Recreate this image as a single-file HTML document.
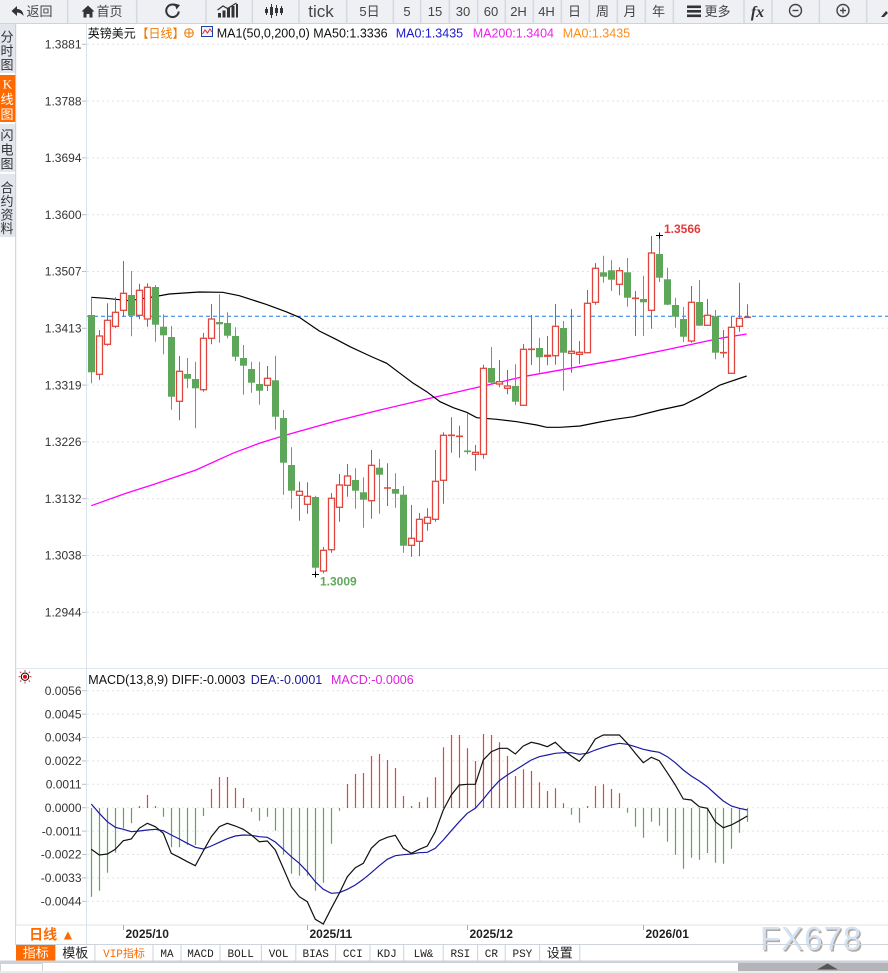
<!DOCTYPE html>
<html><head><meta charset="utf-8">
<style>
html,body{margin:0;padding:0;background:#fff;}
body{width:888px;height:973px;overflow:hidden;}
svg{display:block;font-family:"Liberation Sans","Noto Sans CJK SC",sans-serif;}
.gw{stroke:#5ea65a;stroke-width:1;fill:none}
.gb rect{fill:#5ea65a}
.rw{stroke:#e0463e;stroke-width:1;fill:none}
.rb rect{fill:#fff;stroke:#e0463e;stroke-width:1.3}
.grid{stroke:#e2e2e2;stroke-width:1;stroke-dasharray:2,3}
.yl{font-size:12px;fill:#333;text-anchor:end}
.tb{font-size:13px;fill:#444;text-anchor:middle}
.sb{font-size:13px;fill:#333;text-anchor:middle}
.tab{font-family:"Liberation Mono","Noto Sans CJK SC",monospace;font-size:11px;fill:#222;text-anchor:middle}
.dl{font-size:12px;font-weight:bold;fill:#222}
</style></head>
<body>
<svg width="888" height="973" viewBox="0 0 888 973" xmlns="http://www.w3.org/2000/svg">
<!-- toolbar -->
<rect x="0" y="0" width="888" height="23" fill="#eef0f4"/>
<g stroke="#d5d8df" stroke-width="1.5">
<line x1="67.7" y1="0" x2="67.7" y2="23"/><line x1="136.7" y1="0" x2="136.7" y2="23"/><line x1="206" y1="0" x2="206" y2="23"/><line x1="252.3" y1="0" x2="252.3" y2="23"/><line x1="299" y1="0" x2="299" y2="23"/><line x1="346.7" y1="0" x2="346.7" y2="23"/><line x1="393.3" y1="0" x2="393.3" y2="23"/><line x1="420.7" y1="0" x2="420.7" y2="23"/><line x1="449.3" y1="0" x2="449.3" y2="23"/><line x1="477.7" y1="0" x2="477.7" y2="23"/><line x1="505.3" y1="0" x2="505.3" y2="23"/><line x1="533.3" y1="0" x2="533.3" y2="23"/><line x1="561.3" y1="0" x2="561.3" y2="23"/><line x1="589.3" y1="0" x2="589.3" y2="23"/><line x1="617.3" y1="0" x2="617.3" y2="23"/><line x1="645.3" y1="0" x2="645.3" y2="23"/><line x1="673.3" y1="0" x2="673.3" y2="23"/><line x1="744" y1="0" x2="744" y2="23"/><line x1="772" y1="0" x2="772" y2="23"/><line x1="819.3" y1="0" x2="819.3" y2="23"/><line x1="866.7" y1="0" x2="866.7" y2="23"/>
</g>
<line x1="0" y1="23.5" x2="888" y2="23.5" stroke="#d0d4da"/>
<path d="M11.5 11 L17 6 L17 9 Q23 9 23.5 16 Q21 12.5 17 12.5 L17 16 Z" fill="#333"/>
<text x="26.5" y="16" font-size="13" fill="#444">返回</text>
<path d="M81.5 11.5 L88 5.5 L94.5 11.5 L92.5 11.5 L92.5 17.5 L89.5 17.5 L89.5 14 L86.5 14 L86.5 17.5 L83.5 17.5 L83.5 11.5 Z" fill="#333"/>
<text x="96.5" y="16" font-size="13" fill="#444">首页</text>
<path d="M177 6.3 A6.3 6.3 0 1 0 178.8 11.5" stroke="#333" stroke-width="2" fill="none"/>
<path d="M174.5 3.5 L180 5 L176.5 9.5 Z" fill="#333"/>
<g fill="#333"><rect x="218" y="13" width="3" height="4.5"/><rect x="222.5" y="10.5" width="3" height="7"/><rect x="227" y="8" width="3" height="9.5"/><rect x="231.5" y="6" width="3" height="11.5"/><rect x="236" y="4" width="2" height="13.5"/></g>
<polyline points="217.5,10 223,6 227.5,8.5 236.5,3" stroke="#333" stroke-width="1.2" fill="none"/>
<g stroke="#333" stroke-width="1"><line x1="266.5" y1="7" x2="266.5" y2="15"/><line x1="271.5" y1="4" x2="271.5" y2="18"/><line x1="276.5" y1="5" x2="276.5" y2="16"/><line x1="281.5" y1="6" x2="281.5" y2="15"/></g>
<g fill="#333"><rect x="265" y="9" width="3" height="4"/><rect x="270" y="7" width="3" height="8"/><rect x="275" y="8" width="3" height="5"/><rect x="280" y="8" width="3" height="5"/></g>
<text x="321" y="17" font-size="17" fill="#444" text-anchor="middle">tick</text>
<text class="tb" x="369.5" y="16">5日</text>
<text class="tb" x="407" y="16">5</text>
<text class="tb" x="435" y="16">15</text>
<text class="tb" x="463" y="16">30</text>
<text class="tb" x="491" y="16">60</text>
<text class="tb" x="518.5" y="16">2H</text>
<text class="tb" x="546.5" y="16">4H</text>
<text class="tb" x="574.5" y="16">日</text>
<text class="tb" x="602.5" y="16">周</text>
<text class="tb" x="630" y="16">月</text>
<text class="tb" x="658.5" y="16">年</text>
<g fill="#333"><rect x="687" y="5.5" width="14" height="2.6"/><rect x="687" y="10" width="14" height="2.6"/><rect x="687" y="14.5" width="14" height="2.6"/></g>
<text x="704.5" y="16" font-size="13" fill="#444">更多</text>
<text x="757.5" y="17" font-size="16" font-weight="bold" font-style="italic" fill="#333" text-anchor="middle" font-family="Liberation Serif, serif">fx</text>
<circle cx="795.5" cy="10.5" r="6" stroke="#444" stroke-width="1.4" fill="none"/><line x1="792.5" y1="10.5" x2="798.5" y2="10.5" stroke="#444" stroke-width="1.4"/>
<circle cx="843" cy="10.5" r="6" stroke="#444" stroke-width="1.4" fill="none"/><line x1="840" y1="10.5" x2="846" y2="10.5" stroke="#444" stroke-width="1.4"/><line x1="843" y1="7.5" x2="843" y2="13.5" stroke="#444" stroke-width="1.4"/>
<path d="M881 17 L886 11 L888 13 L884 17 Z" fill="#333"/>

<!-- sidebar -->
<rect x="0" y="24" width="15.5" height="213" fill="#e3e6ed"/>
<rect x="0" y="75" width="15.5" height="47" fill="#ff6a00"/>
<rect x="0" y="122" width="15.5" height="2" fill="#fff"/>
<rect x="0" y="172" width="15.5" height="2" fill="#fff"/>
<rect x="0" y="73" width="15.5" height="2" fill="#fff"/>
<line x1="15.7" y1="24" x2="15.7" y2="945" stroke="#c8ccd6"/>
<text class="sb" x="7" y="41.5">分</text><text class="sb" x="7" y="55.5">时</text><text class="sb" x="7" y="69.5">图</text>
<text class="sb" x="7.5" y="88.5" fill="#fff" font-size="11" style="fill:#fff" font-family="Liberation Serif, serif">K</text><text class="sb" x="7" y="104" style="fill:#fff">线</text><text class="sb" x="7" y="119" style="fill:#fff">图</text>
<text class="sb" x="7" y="140">闪</text><text class="sb" x="7" y="154.5">电</text><text class="sb" x="7" y="168.5">图</text>
<text class="sb" x="7" y="192.5">合</text><text class="sb" x="7" y="206">约</text><text class="sb" x="7" y="219.5">资</text><text class="sb" x="7" y="233">料</text>

<!-- axes frame -->
<line x1="86.5" y1="24" x2="86.5" y2="944" stroke="#dbe2ea"/>
<line x1="16" y1="668.5" x2="888" y2="668.5" stroke="#e0e6ee"/>
<line x1="16" y1="925" x2="888" y2="925" stroke="#dde2ea"/>

<!-- price grid -->
<g class="grid">
<line x1="87" y1="44.3" x2="888" y2="44.3"/><line x1="87" y1="101.1" x2="888" y2="101.1"/><line x1="87" y1="157.9" x2="888" y2="157.9"/><line x1="87" y1="214.7" x2="888" y2="214.7"/><line x1="87" y1="271.5" x2="888" y2="271.5"/><line x1="87" y1="328.3" x2="888" y2="328.3"/><line x1="87" y1="385.1" x2="888" y2="385.1"/><line x1="87" y1="441.9" x2="888" y2="441.9"/><line x1="87" y1="498.7" x2="888" y2="498.7"/><line x1="87" y1="555.5" x2="888" y2="555.5"/><line x1="87" y1="612.3" x2="888" y2="612.3"/>
</g>
<g stroke="#b8c0cc" stroke-width="1">
<line x1="82" y1="44.3" x2="86" y2="44.3"/><line x1="82" y1="101.1" x2="86" y2="101.1"/><line x1="82" y1="157.9" x2="86" y2="157.9"/><line x1="82" y1="214.7" x2="86" y2="214.7"/><line x1="82" y1="271.5" x2="86" y2="271.5"/><line x1="82" y1="328.3" x2="86" y2="328.3"/><line x1="82" y1="385.1" x2="86" y2="385.1"/><line x1="82" y1="441.9" x2="86" y2="441.9"/><line x1="82" y1="498.7" x2="86" y2="498.7"/><line x1="82" y1="555.5" x2="86" y2="555.5"/><line x1="82" y1="612.3" x2="86" y2="612.3"/>
</g>
<g class="yl">
<text x="81.5" y="48.5">1.3881</text><text x="81.5" y="105.3">1.3788</text><text x="81.5" y="162.1">1.3694</text><text x="81.5" y="218.9">1.3600</text><text x="81.5" y="275.7">1.3507</text><text x="81.5" y="332.5">1.3413</text><text x="81.5" y="389.3">1.3319</text><text x="81.5" y="446.1">1.3226</text><text x="81.5" y="502.9">1.3132</text><text x="81.5" y="559.7">1.3038</text><text x="81.5" y="616.5">1.2944</text>
</g>

<!-- legend -->
<text x="87.7" y="37.5" font-size="12" fill="#111">英镑美元</text>
<text x="136.5" y="37.5" font-size="12" fill="#f07800">【日线】</text>
<circle cx="189" cy="33" r="4.3" stroke="#f07800" stroke-width="1" fill="none"/><line x1="184.7" y1="33" x2="193.3" y2="33" stroke="#f07800"/><line x1="189" y1="28.7" x2="189" y2="37.3" stroke="#f07800"/>
<rect x="201.5" y="26.5" width="11" height="10" fill="#eef2fb" stroke="#2040a0"/>
<polyline points="202.5,34 205,30 207.5,33 210,29 212,32" stroke="#e03030" fill="none" stroke-width="1"/>
<text x="216.7" y="37.3" font-size="12.5" fill="#111">MA1(50,0,200,0) MA50:1.3336</text>
<text x="395.7" y="37.3" font-size="12.5" fill="#1a1acc">MA0:1.3435</text>
<text x="472.7" y="37.3" font-size="12.5" fill="#ee22ee">MA200:1.3404</text>
<text x="562.7" y="37.3" font-size="12.5" fill="#ff8c1a">MA0:1.3435</text>

<!-- current price dashed line -->
<line x1="87" y1="316.3" x2="888" y2="316.3" stroke="#1e7be0" stroke-width="1" stroke-dasharray="4,3"/>

<!-- MA lines -->
<polyline fill="none" stroke="#ff00ff" stroke-width="1.3" points="91.3,505.7 126,493.3 152.7,484.7 196,470 232.7,453.3 259.3,443.3 286,435 336,421 380,410 430,398.3 480,386.7 525,376.3 570,368.3 620,359.3 670,349 720,338.3 746.7,334"/>
<polyline fill="none" stroke="#000" stroke-width="1.2" points="91.3,297.3 106,298.3 129.3,300.7 152.7,297 169.3,294 199.3,292 222.7,292.3 239.3,295.7 266,304.3 286,311.7 299.3,317.3 319.3,331 336,339.3 350,346.7 370,356 386.7,363.3 400,373.3 413.3,383.3 426.7,391.7 440,401.7 453.3,407.7 466.7,412.3 476.7,417.7 496.7,419.3 516.7,421.7 536.7,425 546.7,427.3 560,427.3 580,426 600,422 615,419.3 633.3,416.7 660,410 683.3,405 700,396.7 720,385 746.7,376"/>

<!-- candles -->
<path class="gw" d="M91.5 297.7V383.3M131.5 271V336.3M155.5 285V341.7M163.5 314.3V354.3M171.5 326V409.7M187.5 358V388.3M195.5 361.7V428.3M219.5 294.3V342.7M227.5 312.3V338.3M235.5 327.3V361M243.5 345V394.7M251.5 361.7V392.7M259.5 361.7V404.7M275.5 355.7V429.7M283.5 410V494.7M291.5 447.3V508.7M315.5 495.7V574.3M355.5 468.3V508.7M363.5 477.3V527.7M379.5 459V513.7M395.5 473.3V507.7M403.5 486V552.7M467.5 413.3V454.3M491.5 347V384.3M515.5 364.3V405M539.5 337.7V372.7M563.5 321V390.7M603.5 255.7V282.7M611.5 260.3V291M627.5 258V306.7M643.5 275.7V336M659.5 235.7V282M667.5 267.7V305.3M675.5 297.7V327.7M683.5 307V342M699.5 280V326M715.5 310V359.3"/>
<path d="M464 451.3h7" stroke="#5ea65a" stroke-width="1.6"/>
<g class="gb">
<rect x="88" y="315" width="7" height="57.3"/><rect x="128" y="295" width="7" height="20.7"/><rect x="152" y="287" width="7" height="37.7"/><rect x="160" y="326.7" width="7" height="8.6"/><rect x="168" y="337" width="7" height="59.7"/><rect x="184" y="374" width="7" height="4.7"/><rect x="192" y="379" width="7" height="9.3"/><rect x="216" y="322" width="7" height="2.3"/><rect x="224" y="323" width="7" height="12.7"/><rect x="232" y="336" width="7" height="20.7"/><rect x="240" y="358" width="7" height="7.7"/><rect x="248" y="369" width="7" height="13.7"/><rect x="256" y="384" width="7" height="6.7"/><rect x="272" y="380.3" width="7" height="36.4"/><rect x="280" y="418" width="7" height="44.7"/><rect x="288" y="465" width="7" height="25.7"/><rect x="312" y="497" width="7" height="70.7"/><rect x="352" y="480" width="7" height="10.7"/><rect x="360" y="492.3" width="7" height="7.4"/><rect x="376" y="467.7" width="7" height="7"/><rect x="392" y="489" width="7" height="4.7"/><rect x="400" y="494.7" width="7" height="51"/><rect x="488" y="368" width="7" height="14.7"/><rect x="512" y="386" width="7" height="15.7"/><rect x="536" y="348" width="7" height="9.3"/><rect x="560" y="328" width="7" height="24.7"/><rect x="600" y="272.3" width="7" height="4.4"/><rect x="608" y="270.3" width="7" height="9.4"/><rect x="624" y="272.3" width="7" height="25.4"/><rect x="640" y="299" width="7" height="3.3"/><rect x="656" y="254" width="7" height="23.7"/><rect x="664" y="279.3" width="7" height="25.4"/><rect x="672" y="305" width="7" height="11.7"/><rect x="680" y="319" width="7" height="17.7"/><rect x="696" y="302" width="7" height="23.7"/><rect x="712" y="316.3" width="7" height="36.4"/>
</g>
<path class="rw" d="M99.5 330V379.7M107.5 303.3V345.7M115.5 297.3V328.3M123.5 261V316M139.5 283.7V319.3M147.5 283.3V326.7M179.5 356V420.3M203.5 333V391.7M211.5 304V344.3M267.5 366V391M299.5 481.7V520.7M307.5 482.3V513.7M323.5 547V573.3M331.5 493V552.7M339.5 474V521.7M347.5 464V496.7M371.5 450V518.7M387.5 463.3V506M411.5 505V556.7M419.5 513V556.3M427.5 508.3V530.7M435.5 450V521.7M443.5 432.3V503.7M451.5 417.3V452.7M459.5 425.7V457.7M475.5 445V470.7M483.5 364.7V458.7M499.5 360V387.3M507.5 370V394.3M523.5 344V405.3M531.5 315V365M547.5 336V365.3M555.5 304V364.7M571.5 309V372.7M579.5 341V364M587.5 290V353.3M595.5 263V304.7M619.5 267.3V295.3M635.5 291V336M651.5 236V328.7M691.5 286V342.7M707.5 299V325.3M723.5 330V357.7M731.5 316.7V373.3M739.5 282.7V331.7M747.5 304.3V317.3"/>
<path d="M384 488h7M448 435.3h7M456 436.3h7M528 349.3h7M632 298.3h7M720 352.7h7M744 317.3h7" stroke="#e0463e" stroke-width="1.6"/>
<g class="rb">
<rect x="96.5" y="336" width="6" height="38.3"/><rect x="104.5" y="320.3" width="6" height="24"/><rect x="112.5" y="312.3" width="6" height="14"/><rect x="120.5" y="293.3" width="6" height="17"/><rect x="136.5" y="290.3" width="6" height="25"/><rect x="144.5" y="287.3" width="6" height="31.7"/><rect x="176.5" y="371.3" width="6" height="30"/><rect x="200.5" y="338.3" width="6" height="51.4"/><rect x="208.5" y="319" width="6" height="19.3"/><rect x="264.5" y="378.3" width="6" height="7"/><rect x="296.5" y="491.3" width="6" height="4"/><rect x="304.5" y="496.3" width="6" height="8"/><rect x="320.5" y="550.3" width="6" height="20.7"/><rect x="328.5" y="498.3" width="6" height="51.4"/><rect x="336.5" y="485" width="6" height="22.3"/><rect x="344.5" y="476" width="6" height="9.3"/><rect x="368.5" y="465.3" width="6" height="35.4"/><rect x="408.5" y="538.3" width="6" height="7"/><rect x="416.5" y="519.3" width="6" height="22"/><rect x="424.5" y="517.3" width="6" height="6"/><rect x="432.5" y="481.3" width="6" height="38"/><rect x="440.5" y="435.3" width="6" height="45"/><rect x="472.5" y="452.3" width="6" height="2"/><rect x="480.5" y="368.3" width="6" height="86"/><rect x="496.5" y="381.7" width="6" height="2.3"/><rect x="504.5" y="386" width="6" height="2.3"/><rect x="520.5" y="349.3" width="6" height="56"/><rect x="544.5" y="355.3" width="6" height="1"/><rect x="552.5" y="326.3" width="6" height="29.4"/><rect x="568.5" y="351.3" width="6" height="2"/><rect x="576.5" y="352.3" width="6" height="2"/><rect x="584.5" y="303.3" width="6" height="49.4"/><rect x="592.5" y="268.3" width="6" height="34"/><rect x="616.5" y="270.7" width="6" height="13.6"/><rect x="648.5" y="253" width="6" height="57.3"/><rect x="688.5" y="302.3" width="6" height="38.7"/><rect x="704.5" y="315.3" width="6" height="10"/><rect x="728.5" y="327.3" width="6" height="46"/><rect x="736.5" y="318.3" width="6" height="8"/>
</g>

<!-- high / low markers -->
<path d="M656 235.5h7M659.5 232.5v6" stroke="#000" stroke-width="1"/>
<text x="664" y="233" font-size="12" font-weight="bold" fill="#e03c3c">1.3566</text>
<path d="M312 574.5h7M315.5 571.5v6" stroke="#000" stroke-width="1"/>
<text x="320" y="585.5" font-size="12" font-weight="bold" fill="#5fa85a">1.3009</text>

<!-- MACD panel -->
<g stroke="#d33" stroke-width="1">
<line x1="25" y1="670" x2="25" y2="672"/><line x1="25" y1="681.5" x2="25" y2="683.5"/><line x1="18.5" y1="676.7" x2="20.5" y2="676.7"/><line x1="29.5" y1="676.7" x2="31.5" y2="676.7"/><line x1="20" y1="671.7" x2="21.3" y2="673"/><line x1="28.7" y1="680.4" x2="30" y2="681.7"/><line x1="20" y1="681.7" x2="21.3" y2="680.4"/><line x1="28.7" y1="673" x2="30" y2="671.7"/>
</g>
<circle cx="25" cy="676.7" r="3.7" fill="none" stroke="#000" stroke-width="1"/>
<circle cx="25" cy="676.7" r="2" fill="#e00"/>
<text x="88.3" y="684" font-size="12.5" fill="#111">MACD(13,8,9) DIFF:-0.0003</text>
<text x="250.7" y="684" font-size="12.5" fill="#1a1a9a">DEA:-0.0001</text>
<text x="331" y="684" font-size="12.5" fill="#e020e0">MACD:-0.0006</text>

<g class="grid">
<line x1="87" y1="690.7" x2="888" y2="690.7"/><line x1="87" y1="714.1" x2="888" y2="714.1"/><line x1="87" y1="737.5" x2="888" y2="737.5"/><line x1="87" y1="760.9" x2="888" y2="760.9"/><line x1="87" y1="784.3" x2="888" y2="784.3"/><line x1="87" y1="807.7" x2="888" y2="807.7"/><line x1="87" y1="831.1" x2="888" y2="831.1"/><line x1="87" y1="854.5" x2="888" y2="854.5"/><line x1="87" y1="877.9" x2="888" y2="877.9"/><line x1="87" y1="901.3" x2="888" y2="901.3"/>
</g>
<g stroke="#b8c0cc" stroke-width="1">
<line x1="82" y1="690.7" x2="86" y2="690.7"/><line x1="82" y1="714.1" x2="86" y2="714.1"/><line x1="82" y1="737.5" x2="86" y2="737.5"/><line x1="82" y1="760.9" x2="86" y2="760.9"/><line x1="82" y1="784.3" x2="86" y2="784.3"/><line x1="82" y1="807.7" x2="86" y2="807.7"/><line x1="82" y1="831.1" x2="86" y2="831.1"/><line x1="82" y1="854.5" x2="86" y2="854.5"/><line x1="82" y1="877.9" x2="86" y2="877.9"/><line x1="82" y1="901.3" x2="86" y2="901.3"/>
</g>
<g class="yl">
<text x="81.5" y="694.9">0.0056</text><text x="81.5" y="718.3">0.0045</text><text x="81.5" y="741.7">0.0034</text><text x="81.5" y="765.1">0.0022</text><text x="81.5" y="788.5">0.0011</text><text x="81.5" y="811.9">0.0000</text><text x="81.5" y="835.3">-0.0011</text><text x="81.5" y="858.7">-0.0022</text><text x="81.5" y="882.1">-0.0033</text><text x="81.5" y="905.5">-0.0044</text>
</g>

<path stroke="#5ea65a" stroke-width="1.2" fill="none" d="M91.5 808V896.7M99.5 808V890.7M107.5 808V872.7M115.5 808V852.7M123.5 808V828.3M131.5 808V823.3M163.5 808V816.7M171.5 808V847.3M179.5 808V847.3M187.5 808V845M195.5 808V845M203.5 808V816M251.5 808V811.7M259.5 808V820.7M267.5 808V816.7M275.5 808V830.7M283.5 808V854.7M291.5 808V873.7M299.5 808V875.7M307.5 808V875.7M315.5 808V890.7M323.5 808V882.7M331.5 808V843.7M339.5 808V810.7M571.5 808V814.7M579.5 808V822.7M627.5 808V812.7M635.5 808V826.7M643.5 808V837.7M651.5 808V821.7M659.5 808V825.7M667.5 808V841.7M675.5 808V854.7M683.5 808V868.7M691.5 808V857.7M699.5 808V859.7M707.5 808V853M715.5 808V862.7M723.5 808V863.7M731.5 808V848.7M739.5 808V832.7M747.5 808V821.7"/>
<path stroke="#e0463e" stroke-width="1.2" fill="none" d="M139.5 808V806M147.5 808V795M155.5 808V806M211.5 808V789M219.5 808V777M227.5 808V777M235.5 808V788M243.5 808V798M347.5 808V784M355.5 808V774M363.5 808V773M371.5 808V756M379.5 808V754M387.5 808V760M395.5 808V768M403.5 808V796M411.5 808V806M419.5 808V802M427.5 808V797.3M435.5 808V777.3M443.5 808V747.3M451.5 808V735M459.5 808V735M467.5 808V748.3M475.5 808V761M483.5 808V734M491.5 808V735M499.5 808V742.3M507.5 808V756M515.5 808V776M523.5 808V769.3M531.5 808V771M539.5 808V782.3M547.5 808V791M555.5 808V788.3M563.5 808V803.3M587.5 808V806M595.5 808V786M603.5 808V784.3M611.5 808V789M619.5 808V793.3"/>

<polyline fill="none" stroke="#1a1aa0" stroke-width="1.2" points="91.3,804 99.3,813.3 107.3,821.7 115.3,827.3 123.3,829.3 131.3,831.7 139.3,831 147.3,830 155.3,829.3 163.3,830.7 171.3,835 179.3,839 187.3,843.3 195.3,847.3 203.3,849 211.3,846 219.3,842.3 227.3,838.7 235.3,836 243.3,835 251.3,835.3 259.3,836.7 267.3,837.3 275.3,842 283.3,849.3 291.3,856.7 299.3,863.3 307.3,871.7 315.3,881.7 323.3,889.3 331.3,893.3 339.3,892.7 347.3,889.3 355.3,885 363.3,879.3 371.3,872.7 379.3,865.7 387.3,859.3 395.3,855.7 403.3,854.7 411.3,854 419.3,852.7 427.3,852.3 435.3,848.3 443.3,840 451.3,830.7 459.3,821.7 467.3,813.3 475.3,808.3 483.3,799.3 491.3,789.3 499.3,780.7 507.3,775 515.3,770 523.3,765 531.3,760 539.3,756.7 547.3,755 555.3,753.3 563.3,752.7 571.3,752.7 579.3,754.3 587.3,753.3 595.3,750 603.3,747.3 611.3,745 619.3,743.3 627.3,744.3 635.3,746.7 643.3,749.3 651.3,751 659.3,752.3 667.3,756.7 675.3,762.7 683.3,770 691.3,776 699.3,781 707.3,786.7 715.3,794 723.3,801 731.3,806 739.3,808.3 747.3,810"/>
<polyline fill="none" stroke="#111" stroke-width="1.2" points="91.3,849.3 99.3,855 107.3,854 115.3,849.3 123.3,840.7 131.3,839 139.3,828.3 147.3,823.3 155.3,826.7 163.3,833.3 171.3,853.3 179.3,857.3 187.3,861.7 195.3,865.7 203.3,851 211.3,836.7 219.3,826.7 227.3,823.3 235.3,826 243.3,829.3 251.3,835 259.3,841.7 267.3,841 275.3,850 283.3,868.3 291.3,886.7 299.3,896.7 307.3,901.7 315.3,919.3 323.3,924 331.3,908.3 339.3,893.3 347.3,876.7 355.3,867.7 363.3,863.3 371.3,848.3 379.3,840.7 387.3,837.3 395.3,835.3 403.3,848.3 411.3,853.3 419.3,849.3 427.3,846 435.3,831.7 443.3,810 451.3,795 459.3,785 467.3,784.3 475.3,784.3 483.3,760 491.3,751.7 499.3,748.3 507.3,748.3 515.3,754 523.3,746 531.3,742.3 539.3,744 547.3,746.7 555.3,742.3 563.3,750 571.3,756 579.3,761.3 587.3,751.7 595.3,739 603.3,735 611.3,735 619.3,735 627.3,743.3 635.3,753.3 643.3,762.7 651.3,757.3 659.3,760.7 667.3,772.7 675.3,785 683.3,799 691.3,800 699.3,806.7 707.3,808.3 715.3,821.7 723.3,827.7 731.3,825 739.3,820.7 747.3,816"/>

<!-- date axis -->
<rect x="16" y="925.5" width="70" height="19" fill="#fff"/>
<text x="52" y="939.5" font-size="14" font-weight="bold" fill="#ff6a00" text-anchor="middle">日线 ▲</text>
<g stroke="#aab" stroke-width="1">
<line x1="123.5" y1="925" x2="123.5" y2="930"/><line x1="307.5" y1="925" x2="307.5" y2="930"/><line x1="467.5" y1="925" x2="467.5" y2="930"/><line x1="643.5" y1="925" x2="643.5" y2="930"/>
</g>
<text class="dl" x="125.5" y="938">2025/10</text>
<text class="dl" x="309.5" y="938">2025/11</text>
<text class="dl" x="469.5" y="938">2025/12</text>
<text class="dl" x="645.5" y="938">2026/01</text>

<!-- watermark -->
<text x="761.5" y="951.5" font-size="33" fill="#b3a79e" letter-spacing="1">FX678</text>
<text x="760" y="950" font-size="33" fill="#d4e3f3" letter-spacing="1">FX678</text>

<!-- bottom tabs -->
<line x1="16" y1="944.5" x2="888" y2="944.5" stroke="#cfd3da"/>
<rect x="16" y="945" width="39.5" height="15.5" fill="#ff6a00"/>
<g stroke="#cdd1d8" stroke-width="1">
<line x1="55.5" y1="945" x2="55.5" y2="960.5"/><line x1="94.9" y1="945" x2="94.9" y2="960.5"/><line x1="153" y1="945" x2="153" y2="960.5"/><line x1="181" y1="945" x2="181" y2="960.5"/><line x1="220" y1="945" x2="220" y2="960.5"/><line x1="261.4" y1="945" x2="261.4" y2="960.5"/><line x1="295.8" y1="945" x2="295.8" y2="960.5"/><line x1="335.6" y1="945" x2="335.6" y2="960.5"/><line x1="370" y1="945" x2="370" y2="960.5"/><line x1="403.7" y1="945" x2="403.7" y2="960.5"/><line x1="443.2" y1="945" x2="443.2" y2="960.5"/><line x1="477.6" y1="945" x2="477.6" y2="960.5"/><line x1="505.2" y1="945" x2="505.2" y2="960.5"/><line x1="539.6" y1="945" x2="539.6" y2="960.5"/><line x1="579.8" y1="945" x2="579.8" y2="960.5"/>
</g>
<text x="35.7" y="957.5" font-size="13" fill="#fff" text-anchor="middle">指标</text>
<text x="75.2" y="957.5" font-size="13" fill="#222" text-anchor="middle">模板</text>
<text class="tab" x="124" y="957" style="fill:#ff6a00">VIP指标</text>
<text class="tab" x="167" y="957">MA</text>
<text class="tab" x="200.5" y="957">MACD</text>
<text class="tab" x="240.7" y="957">BOLL</text>
<text class="tab" x="278.6" y="957">VOL</text>
<text class="tab" x="315.7" y="957">BIAS</text>
<text class="tab" x="352.8" y="957">CCI</text>
<text class="tab" x="386.9" y="957">KDJ</text>
<text class="tab" x="423.5" y="957">LW&amp;</text>
<text class="tab" x="460.4" y="957">RSI</text>
<text class="tab" x="491.4" y="957">CR</text>
<text class="tab" x="522.4" y="957">PSY</text>
<text x="559.7" y="957.5" font-size="13" fill="#222" text-anchor="middle">设置</text>

<!-- scroll strip -->
<rect x="0" y="960.5" width="888" height="2.5" fill="#cdd1d8"/>
<rect x="0.5" y="963.5" width="42" height="10" fill="#fff" stroke="#cdd1d8"/>
<rect x="738" y="963" width="150" height="8" fill="#b4b4b8"/>
<path d="M817 969.5 L838 969.5 L827.5 963.5 Z" fill="#555"/>
<rect x="0" y="971" width="888" height="2" fill="#e9ebef"/>
</svg>
</body></html>
